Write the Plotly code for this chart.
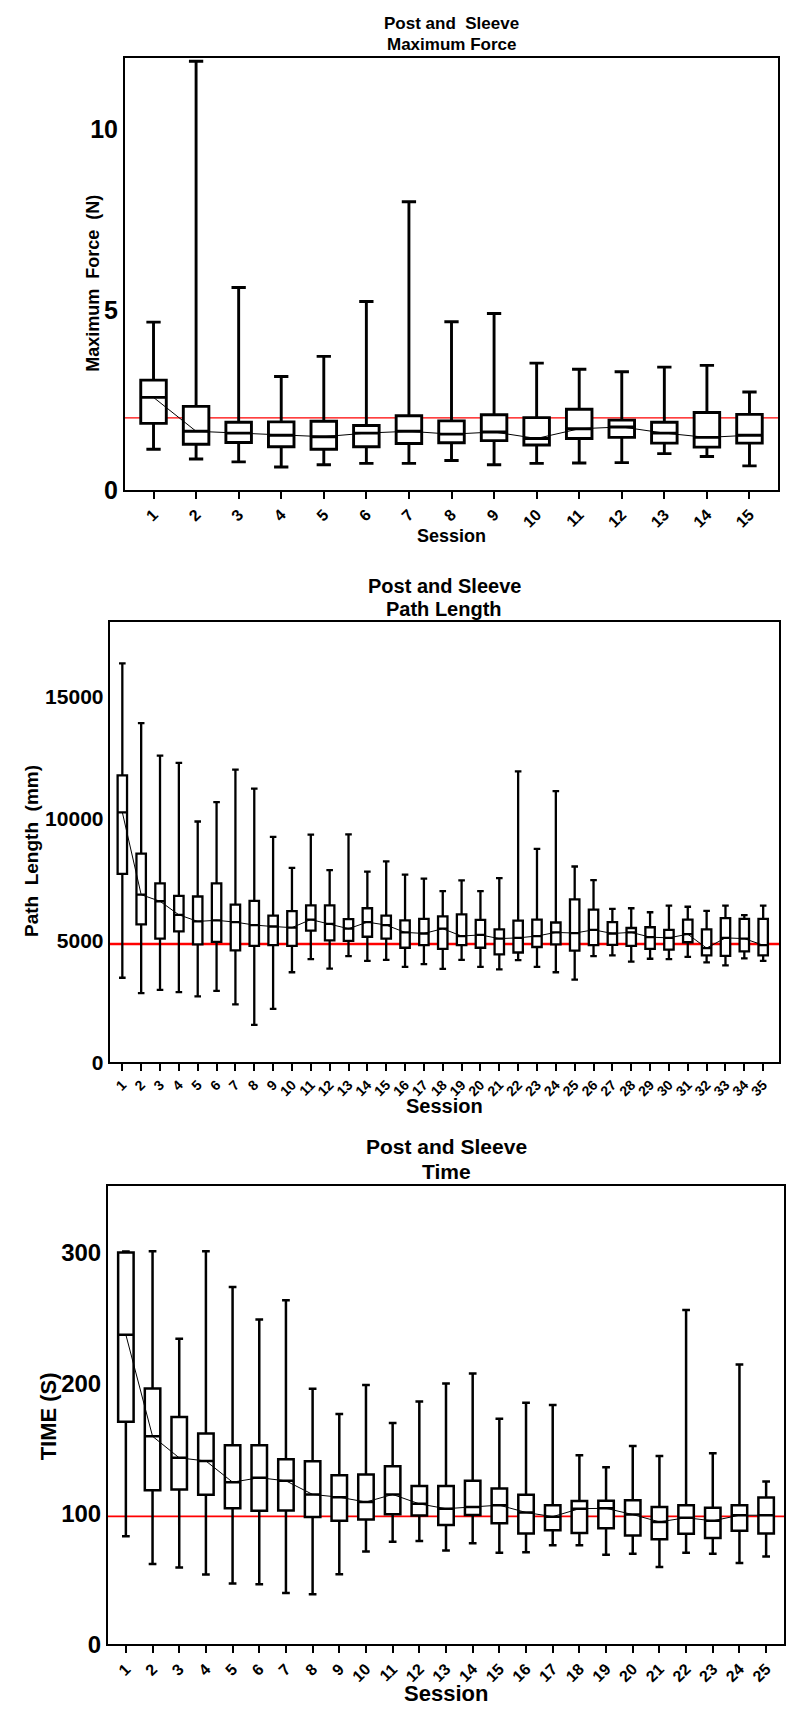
import plotly.graph_objects as go

# ---------------- Data ----------------
# Panel 1: Maximum Force (N)
mf_sessions = list(range(1, 16))
mf_upper = [4.66, 11.9, 5.62, 3.15, 3.71, 5.23, 8.0, 4.67, 4.90, 3.52, 3.35, 3.28, 3.41, 3.46, 2.72]
mf_q3 = [3.05, 2.32, 1.88, 1.89, 1.91, 1.79, 2.06, 1.92, 2.09, 2.01, 2.24, 1.94, 1.88, 2.15, 2.10]
mf_median = [2.57, 1.63, 1.58, 1.52, 1.48, 1.58, 1.63, 1.55, 1.61, 1.43, 1.70, 1.75, 1.58, 1.46, 1.52]
mf_q1 = [1.85, 1.27, 1.32, 1.20, 1.13, 1.20, 1.29, 1.31, 1.37, 1.25, 1.43, 1.46, 1.30, 1.19, 1.30]
mf_lower = [1.13, 0.86, 0.78, 0.64, 0.70, 0.74, 0.74, 0.82, 0.70, 0.74, 0.75, 0.76, 1.01, 0.93, 0.67]
mf_reference = 2.0

# Panel 2: Path Length (mm)
pl_sessions = list(range(1, 36))
pl_upper = [16350, 13905, 12570, 12270, 9870, 10665, 12000, 11220, 9240, 7965,
            9330, 7875, 9345, 7815, 8235, 7695, 7530, 7020, 7455, 7020,
            7545, 11925, 8745, 11115, 8025, 7470, 6285, 6315, 6150, 6420,
            6375, 6210, 6420, 6030, 6420]
pl_q3 = [11760, 8550, 7335, 6825, 6795, 7335, 6465, 6615, 6015, 6195,
         6435, 6435, 5865, 6315, 6015, 5820, 5880, 5985, 6060, 5835,
         5445, 5805, 5850, 5730, 6675, 6255, 5745, 5505, 5535, 5430,
         5850, 5445, 5910, 5880, 5880]
pl_median = [10245, 6870, 6600, 6045, 5775, 5820, 5745, 5625, 5565, 5520,
             5850, 5670, 5475, 5745, 5625, 5325, 5280, 5475, 5175, 5220,
             5070, 5100, 5175, 5325, 5295, 5430, 5280, 5325, 5130, 5100,
             5250, 4680, 5100, 5070, 4800]
pl_q1 = [7725, 5655, 5070, 5370, 4830, 4935, 4590, 4770, 4800, 4770,
         5400, 4995, 4980, 5145, 5070, 4695, 4800, 4650, 4800, 4695,
         4425, 4500, 4725, 4830, 4575, 4800, 4815, 4770, 4650, 4620,
         4920, 4380, 4365, 4545, 4380]
pl_lower = [3465, 2835, 2970, 2880, 2700, 2925, 2370, 1530, 2190, 3690,
            4230, 3840, 4350, 4155, 4200, 3915, 4020, 3825, 4200, 3915,
            3810, 4185, 3915, 3690, 3390, 4350, 4380, 4125, 4245, 4230,
            4320, 4095, 3975, 4260, 4155]
pl_reference = 4850

# Panel 3: Time (s)
tm_sessions = list(range(1, 26))
tm_upper = [300.6, 300.8, 233.9, 300.8, 273.6, 248.6, 263.3, 195.6, 176.4, 198.5,
            169.5, 186.0, 199.6, 207.3, 172.7, 184.9, 183.3, 144.7, 135.6, 151.9,
            144.2, 256.0, 146.3, 214.2, 124.7]
tm_q3 = [300.0, 195.8, 174.0, 161.5, 152.4, 152.4, 141.8, 140.2, 129.5, 130.0,
         136.4, 121.2, 121.2, 125.2, 119.4, 114.6, 106.6, 109.8, 110.0, 110.3,
         105.2, 106.6, 104.7, 106.6, 112.4]
tm_median = [237.0, 159.3, 142.8, 140.4, 124.2, 127.6, 125.2, 114.8, 112.7, 109.0,
             114.8, 107.6, 103.9, 105.2, 106.6, 101.0, 97.8, 103.9, 104.2, 99.4,
             93.8, 97.0, 94.6, 98.9, 98.9]
tm_q1 = [170.5, 118.0, 118.6, 114.6, 104.2, 102.3, 102.6, 97.5, 94.6, 95.7,
         99.7, 98.6, 91.4, 99.1, 92.7, 85.0, 87.4, 85.3, 89.0, 83.4,
         80.5, 84.7, 81.5, 87.1, 85.0]
tm_lower = [82.9, 61.5, 58.9, 53.6, 46.6, 46.1, 39.4, 38.4, 53.8, 71.1,
            78.6, 79.1, 71.9, 77.5, 70.1, 70.6, 75.9, 75.9, 68.7, 69.5,
            59.2, 70.1, 69.5, 62.3, 67.4]
tm_reference = 98

# ---------------- Styling / layout helpers ----------------
W, H = 797, 1709
FONT = "Liberation Sans, Arial, Helvetica, sans-serif"
NB = "\u00a0"


def px_x(p):
    return p / W


def px_y(p):
    return 1 - p / H


panels = [
    dict(sessions=mf_sessions, upper=mf_upper, q3=mf_q3, med=mf_median, q1=mf_q1, lower=mf_lower,
         ref=mf_reference, xd=(117, 770), yd=(50, 486), xr=(0.33, 15.67), yr=(0, 12.0),
         yticks=[0, 5, 10], boxw=0.60, whisk=0.56, lw=2.9, reflw=1.2, ytick_size=25, xtick_size=16,
         title1="Post and" + NB + NB + "Sleeve", title2="Maximum Force", t1y=16, t2y=37, tsize=17,
         ytitle="Maximum" + NB + NB + "Force" + NB + NB + "(N)", ytx=85, yty=278, ytsize=18,
         sess_y=532, sess_size=18),
    dict(sessions=pl_sessions, upper=pl_upper, q3=pl_q3, med=pl_median, q1=pl_q1, lower=pl_lower,
         ref=pl_reference, xd=(101.7, 771), yd=(619, 1063), xr=(0.33, 35.84), yr=(0, 18050),
         yticks=[0, 5000, 10000, 15000], boxw=0.50, whisk=0.7, lw=2.3, reflw=2.5, ytick_size=21,
         xtick_size=14,
         title1="Post and Sleeve", title2="Path Length", t1y=583, t2y=606, tsize=20,
         ytitle="Path" + NB + NB + "Length" + NB + NB + "(mm)", ytx=23, yty=850, ytsize=19,
         sess_y=1107, sess_size=20),
    dict(sessions=tm_sessions, upper=tm_upper, q3=tm_q3, med=tm_median, q1=tm_q1, lower=tm_lower,
         ref=tm_reference, xd=(100, 776), yd=(1188, 1650), xr=(0.33, 25.67), yr=(0, 350.6),
         yticks=[0, 100, 200, 300], boxw=0.58, whisk=0.5, lw=2.5, reflw=1.6, ytick_size=24,
         xtick_size=16,
         title1="Post and Sleeve", title2="Time", t1y=1148, t2y=1173, tsize=21,
         ytitle="TIME (S)", ytx=40, yty=1420, ytsize=22, sess_y=1699, sess_size=22),
]

fig = go.Figure()
annotations = []
shapes = []

for i, p in enumerate(panels, start=1):
    xa = "x" if i == 1 else f"x{i}"
    ya = "y" if i == 1 else f"y{i}"
    fig.add_trace(go.Box(
        x=p["sessions"], q1=p["q1"], median=p["med"], q3=p["q3"],
        lowerfence=p["lower"], upperfence=p["upper"],
        width=p["boxw"], whiskerwidth=p["whisk"],
        fillcolor="white", line=dict(color="black", width=p["lw"]),
        boxpoints=False, hoverinfo="skip", xaxis=xa, yaxis=ya, showlegend=False,
    ))
    # thin line linking medians
    fig.add_trace(go.Scatter(
        x=p["sessions"], y=p["med"], mode="lines",
        line=dict(color="black", width=1), hoverinfo="skip",
        xaxis=xa, yaxis=ya, showlegend=False,
    ))
    # red reference line across the plot
    shapes.append(dict(type="line", xref=f"{xa} domain", yref=ya, x0=0, x1=1,
                       y0=p["ref"], y1=p["ref"], line=dict(color="#ff0000", width=p["reflw"]),
                       layer="below"))

    axis_key_x = "xaxis" if i == 1 else f"xaxis{i}"
    axis_key_y = "yaxis" if i == 1 else f"yaxis{i}"
    fig.update_layout(**{
        axis_key_x: dict(
            domain=[px_x(p["xd"][0]), px_x(p["xd"][1])], anchor=ya,
            range=list(p["xr"]), tickmode="array", tickvals=p["sessions"],
            ticktext=[str(s) for s in p["sessions"]], tickangle=-45,
            ticks="outside", ticklen=7, tickwidth=2, tickcolor="black",
            showline=True, linecolor="black", linewidth=2, mirror=True,
            showgrid=False, zeroline=False,
            tickfont=dict(family=FONT, size=p["xtick_size"], color="black", weight="bold"),
        ),
        axis_key_y: dict(
            domain=[px_y(p["yd"][1]), px_y(p["yd"][0])], anchor=xa,
            range=list(p["yr"]), tickmode="array", tickvals=p["yticks"],
            ticktext=[str(v) for v in p["yticks"]], ticks="",
            showline=True, linecolor="black", linewidth=2, mirror=True,
            showgrid=False, zeroline=False,
            tickfont=dict(family=FONT, size=p["ytick_size"], color="black", weight="bold"),
        ),
    })

    cx = (p["xd"][0] + p["xd"][1]) / 2
    annotations += [
        dict(text=p["title1"], x=px_x(cx), y=px_y(p["t1y"]), xref="paper", yref="paper",
             xanchor="center", yanchor="middle", showarrow=False,
             font=dict(family=FONT, size=p["tsize"], color="black", weight="bold")),
        dict(text=p["title2"], x=px_x(cx), y=px_y(p["t2y"]), xref="paper", yref="paper",
             xanchor="center", yanchor="middle", showarrow=False,
             font=dict(family=FONT, size=p["tsize"], color="black", weight="bold")),
        dict(text=p["ytitle"], x=px_x(p["ytx"]), y=px_y(p["yty"]), xref="paper", yref="paper",
             xanchor="center", yanchor="middle", showarrow=False, textangle=-90,
             font=dict(family=FONT, size=p["ytsize"], color="black", weight="bold")),
        dict(text="Session", x=px_x(cx), y=px_y(p["sess_y"]), xref="paper", yref="paper",
             xanchor="center", yanchor="middle", showarrow=False,
             font=dict(family=FONT, size=p["sess_size"], color="black", weight="bold")),
    ]

fig.update_layout(
    width=W, height=H, margin=dict(l=0, r=0, t=0, b=0),
    paper_bgcolor="white", plot_bgcolor="white", showlegend=False,
    annotations=annotations, shapes=shapes,
)

fig.write_html("out.html")
